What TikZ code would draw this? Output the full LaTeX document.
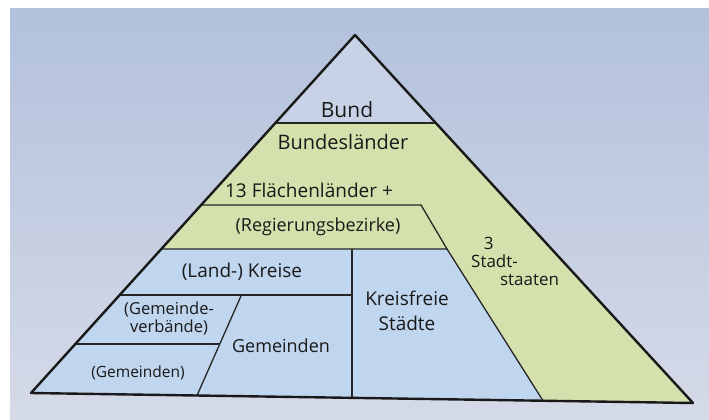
\documentclass[tikz,border=0pt]{standalone}
\usepackage{fontspec}
\setmainfont{Open Sans}
\begin{document}
\begin{tikzpicture}[x=1pt,y=-1pt,
  outline/.style={draw=black!90,line width=2.4pt,line join=round},
  divider/.style={draw=black!85,line width=1.3pt},
  lbl/.style={font=\fontsize{19}{21}\selectfont,text=black!90,inner sep=0pt,align=center},
  small/.style={font=\fontsize{15.5}{17}\selectfont}]
\definecolor{paperA}{HTML}{B3C1DC}
\definecolor{paperB}{HTML}{D5DAE7}
\definecolor{landgreen}{HTML}{D4E1AC}
\definecolor{kreisblue}{HTML}{C0D5EE}
\definecolor{bundfill}{HTML}{C8D2E6}
% white border and paper background
\fill[white] (0,0) rectangle (709,420);
\shade[top color=paperA,bottom color=paperB] (10,9) rectangle (709,420);
\useasboundingbox (0,0) rectangle (709,420);
% corner points of the pyramid
\coordinate (apex) at (355,35);
\coordinate (bl) at (31,393);
\coordinate (br) at (693,403);
\coordinate (bundL) at (275.4,123);
\coordinate (bundR) at (435.8,123);
\coordinate (regL) at (201,205);
\coordinate (regR) at (421,205);
\coordinate (midL) at (161.3,249);
\coordinate (midR) at (447,249);
\coordinate (vtop) at (352,249);
\coordinate (vbot) at (352,397.8);
\coordinate (sbot) at (543,400.7);
\coordinate (kreL) at (119.7,295);
\coordinate (kreR) at (352,295);
\coordinate (gemT) at (241,296);
\coordinate (gemB) at (197,395.5);
\coordinate (gvL) at (75.3,344);
\coordinate (gvR) at (220,344);
% fills
\fill[bundfill] (apex) -- (bundR) -- (bundL) -- cycle;
\fill[landgreen] (bundL) -- (bundR) -- (br) -- (sbot) -- (midR) -- (midL) -- cycle;
\fill[kreisblue] (midL) -- (midR) -- (sbot) -- (bl) -- cycle;
% inner dividers
\draw[divider] (bundL) -- (bundR);
\draw[divider] (regL) -- (regR) -- (midR);
\draw[divider] (midL) -- (midR) -- (sbot);
\draw[divider] (vtop) -- (vbot);
\draw[divider] (kreL) -- (kreR);
\draw[divider] (gemT) -- (gemB);
\draw[divider] (gvL) -- (gvR);
% outline
\draw[outline] (apex) -- (br) -- (bl) -- cycle;
% labels
\node[lbl,font=\fontsize{21}{23}\selectfont] (bund) at (347,110) {Bund};
\node[lbl,font=\fontsize{20}{22}\selectfont] (laender) at (343,142) {Bundesländer};
\node[lbl] (flaechen) at (309,190) {13 Flächenländer +};
\node[lbl,font=\fontsize{18}{20}\selectfont] (rb) at (318,227) {(Regierungsbezirke)};
\node[lbl,font=\fontsize{17}{18}\selectfont,align=left,anchor=west] (stadt) at (471,261)
  {\hspace*{0.75em}3\\Stadt-\\\hspace*{1.7em}staaten};
\node[lbl] (kreise) at (242,272) {(Land-) Kreise};
\node[lbl] (kfs) at (407,311) {Kreisfreie\\[4pt]Städte};
\node[lbl,font=\fontsize{16.5}{18}\selectfont] (gv) at (169,319) {(Gemeinde-\\verbände)};
\node[lbl,font=\fontsize{18}{20}\selectfont] (gem) at (281,346) {Gemeinden};
\node[lbl,small] (gem2) at (138,373) {(Gemeinden)};
\end{tikzpicture}
\end{document}
